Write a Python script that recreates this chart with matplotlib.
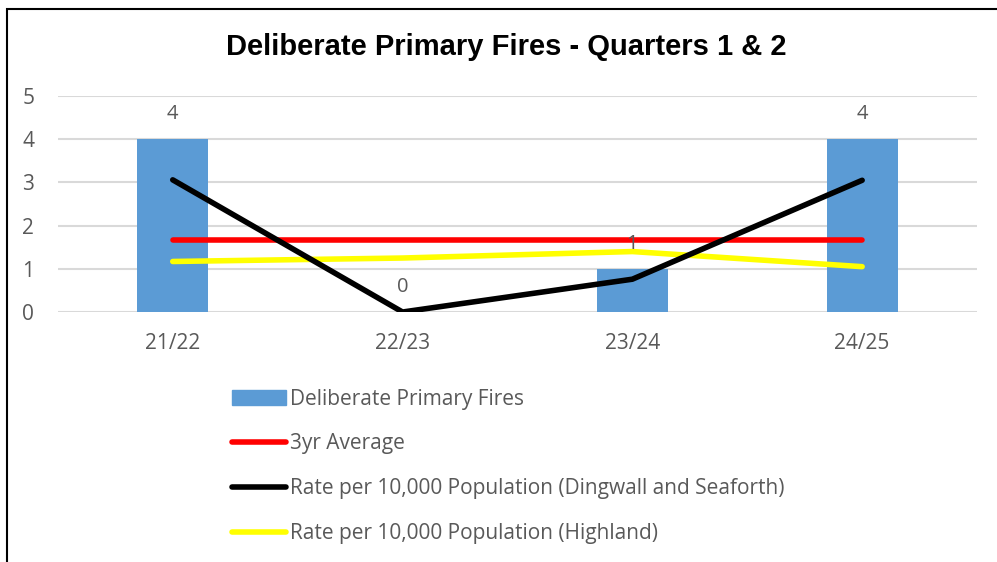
import numpy as np
import matplotlib.pyplot as plt
from matplotlib.patches import Rectangle
from matplotlib.lines import Line2D
from matplotlib.patches import Patch

years = ['21/22', '22/23', '23/24', '24/25']
fires = [4, 0, 1, 4]
avg_3yr = [1.67, 1.67, 1.67, 1.67]
rate_dingwall = [3.06, 0.0, 0.76, 3.05]
rate_highland = [1.17, 1.25, 1.40, 1.05]

grey = '#595959'
lw = 4.0
plt.rcParams['font.family'] = ['Open Sans', 'DejaVu Sans']

fig = plt.figure(figsize=(9.97, 5.62), dpi=100)
ax = fig.add_axes([0.058, 0.4448, 0.922, 0.3843])

x = np.arange(len(years))
ax.bar(x, fires, width=0.31, color='#5B9BD5', zorder=2)
ax.plot(x, avg_3yr, color='#FF0000', lw=lw, solid_capstyle='round', zorder=3)
ax.plot(x, rate_highland, color='#FFFF00', lw=lw, solid_capstyle='round', zorder=4)
ax.plot(x, rate_dingwall, color='black', lw=lw, solid_capstyle='round', zorder=5)

for xi, v in zip(x, fires):
    ax.annotate(str(v), (xi, v), xytext=(0, 18), textcoords='offset points',
                ha='center', va='center', fontsize=14.5, color=grey, zorder=6)

ax.set_xlim(-0.5, 3.5)
ax.set_ylim(0, 5)
ax.set_yticks(range(6))
ax.set_xticks(x)
ax.set_xticklabels(years)
ax.grid(axis='y', color='#D9D9D9', lw=1.5, zorder=0)
ax.set_axisbelow(True)
for s in ax.spines.values():
    s.set_visible(False)
ax.tick_params(length=0, labelsize=15, labelcolor=grey)
ax.tick_params(axis='x', pad=15)
ax.tick_params(axis='y', pad=17)

fig.text(0.508, 0.916, 'Deliberate Primary Fires - Quarters 1 & 2', ha='center', va='center',
         fontsize=21, fontweight='bold', family='Liberation Sans')

handles = [Patch(color='#5B9BD5'),
           Line2D([], [], color='#FF0000', lw=lw, solid_capstyle='round'),
           Line2D([], [], color='black', lw=lw, solid_capstyle='round'),
           Line2D([], [], color='#FFFF00', lw=lw, solid_capstyle='round')]
labels = ['Deliberate Primary Fires', '3yr Average',
          'Rate per 10,000 Population (Dingwall and Seaforth)',
          'Rate per 10,000 Population (Highland)']
leg = fig.legend(handles, labels, loc='upper left', bbox_to_anchor=(0.222, 0.327),
                 frameon=False, fontsize=15, handlelength=2.6, handletextpad=0.2,
                 labelspacing=1.14, borderpad=0)
for t in leg.get_texts():
    t.set_color(grey)

fig.patches.append(Rectangle((0.007, -0.05), 1.1, 1.034, transform=fig.transFigure,
                             fill=False, edgecolor='black', lw=1.5))

fig.savefig('out.png', dpi=100)
